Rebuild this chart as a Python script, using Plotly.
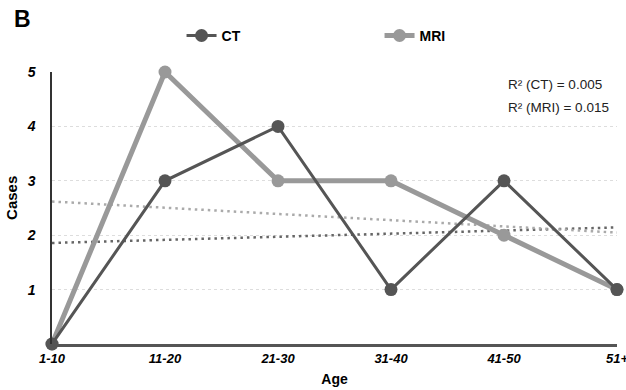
import numpy as np
import plotly.graph_objects as go

ages = ["1-10", "11-20", "21-30", "31-40", "41-50", "51+"]
ct = [0, 3, 4, 1, 3, 1]
mri = [0, 5, 3, 3, 2, 1]
r2_ct = "0.005"
r2_mri = "0.015"
y_ticks = [1, 2, 3, 4, 5]

xs = np.arange(len(ages))
ct_fit = np.polyval(np.polyfit(xs, ct, 1), xs)
mri_fit = np.polyval(np.polyfit(xs, mri, 1), xs)

CT_COL = "#555555"
MRI_COL = "#999999"
FONT = "Liberation Sans, Arial, Helvetica, sans-serif"

fig = go.Figure()
fig.add_trace(go.Scatter(x=xs, y=ct_fit, mode="lines", showlegend=False,
                         line=dict(color="#666666", width=2.5, dash="2.5px,4px"), hoverinfo="skip"))
fig.add_trace(go.Scatter(x=xs, y=mri_fit, mode="lines", showlegend=False,
                         line=dict(color="#aaaaaa", width=2.5, dash="2.5px,4px"), hoverinfo="skip"))
fig.add_trace(go.Scatter(x=xs, y=mri, mode="lines+markers", name="MRI",
                         line=dict(color=MRI_COL, width=5),
                         marker=dict(color=MRI_COL, size=13), cliponaxis=False))
fig.add_trace(go.Scatter(x=xs, y=ct, mode="lines+markers", name="CT",
                         line=dict(color=CT_COL, width=3),
                         marker=dict(color=CT_COL, size=13), cliponaxis=False))

fig.add_annotation(text="B", xref="paper", yref="paper", x=-0.0715, y=1.195,
                   xanchor="left", yanchor="middle", showarrow=False,
                   font=dict(family=FONT, size=23, color="black", weight="bold"))
fig.add_annotation(text="R² (CT) = " + r2_ct, xref="paper", yref="paper",
                   x=0.8035, y=0.955, xanchor="left", yanchor="middle", showarrow=False,
                   font=dict(family=FONT, size=13.5, color="#222222"))
fig.add_annotation(text="R² (MRI) = " + r2_mri, xref="paper", yref="paper",
                   x=0.8035, y=0.868, xanchor="left", yanchor="middle", showarrow=False,
                   font=dict(family=FONT, size=13.5, color="#222222"))
fig.add_annotation(text="Cases", xref="paper", yref="paper",
                   x=-0.0708, y=0.537, xanchor="center", yanchor="middle",
                   textangle=-90, showarrow=False,
                   font=dict(family=FONT, size=15, weight="bold", color="black"))

fig.update_layout(
    width=626, height=390,
    margin=dict(l=52, r=9, t=72, b=46, autoexpand=False),
    paper_bgcolor="white", plot_bgcolor="white",
    font=dict(family=FONT, color="black"),
    legend=dict(orientation="h", xref="container", yref="container",
                x=0.29, y=0.908, xanchor="left", yanchor="middle",
                traceorder="reversed", entrywidth=153, entrywidthmode="pixels",
                font=dict(family=FONT, size=14, weight="bold", color="black")),
    xaxis=dict(range=[0, 5], tickvals=list(xs), ticktext=ages, showgrid=False,
               zeroline=False, showline=True, linecolor="#555555", linewidth=3,
               tickfont=dict(family=FONT, size=13, weight="bold", style="italic"),
               title=dict(text="Age", font=dict(family=FONT, size=14, weight="bold"), standoff=10),
               ticks="", automargin=False, ticklabeloverflow="allow"),
    yaxis=dict(range=[0, 5], tickvals=y_ticks, showgrid=True, gridcolor="#dddddd",
               griddash="dot", gridwidth=1, zeroline=False, showline=True,
               linecolor="#333333", linewidth=1.5,
               tickfont=dict(family=FONT, size=14, weight="bold", style="italic"),
               ticks="outside", ticklen=12, tickcolor="rgba(0,0,0,0)", automargin=False),
)

fig.write_html("out.html", post_script="document.body.style.margin='0';",
               config={"displayModeBar": False})
